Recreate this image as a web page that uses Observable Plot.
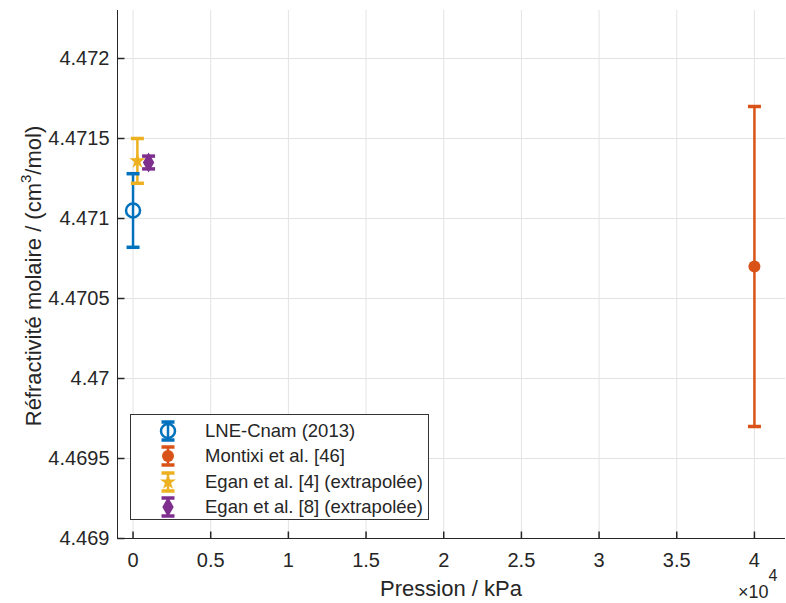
<!DOCTYPE html>
<html><head><meta charset="utf-8">
<script src="https://cdn.jsdelivr.net/npm/d3@7"></script>
<script src="https://cdn.jsdelivr.net/npm/@observablehq/plot@0.6"></script>
<style>
body{margin:0;background:#fff;}
#wrap{position:relative;width:786px;height:603px;font-family:"Liberation Sans",Arial,sans-serif;color:#262626;}
#legend{position:absolute;left:130px;top:414px;width:299px;height:106px;border:1px solid #333;background:#fff;box-sizing:border-box;}
.row{position:absolute;left:0;height:24px;display:flex;align-items:center;font-size:18.5px;white-space:nowrap;}
.row svg{margin-left:28px;margin-right:28px;}
</style></head>
<body><div id="wrap"><div id="legend"></div></div>
<script>
const series = ["LNE-Cnam (2013)", "Montixi et al. [46]", "Egan et al. [4] (extrapolée)", "Egan et al. [8] (extrapolée)"];
const pressure = [0, 40000, 280, 1000];
const refractivity = [4.47105, 4.47070, 4.47136, 4.47135];
const uncertainty = [0.00023, 0.00100, 0.00014, 0.00004];
const xTicks = [0, 5000, 10000, 15000, 20000, 25000, 30000, 35000, 40000];
const yTicks = [4.469, 4.4695, 4.47, 4.4705, 4.471, 4.4715, 4.472];

const colors = ["#0072BD", "#D95319", "#EDB120", "#7E2F8E"];
const table = series.map((s, i) => ({s, i, x: pressure[i], y: refractivity[i], lo: refractivity[i] - uncertainty[i], hi: refractivity[i] + uncertainty[i]}));

const cap = {draw(ctx){ctx.moveTo(-6.5,0);ctx.lineTo(6.5,0);}};
const tickL = {draw(ctx){ctx.moveTo(0,0);ctx.lineTo(7,0);}};
const tickB = {draw(ctx){ctx.moveTo(0,0);ctx.lineTo(0,-7);}};
const markerStyle = [
  {symbol: "circle", r: 7, fill: "white", fillOpacity: 0, stroke: colors[0], strokeWidth: 2.5},
  {symbol: "circle", r: 6, fill: colors[1], stroke: "none"},
  {symbol: "star", r: 5, fill: colors[2], stroke: "none"},
  {symbol: "diamond", r: 6, fill: colors[3], stroke: "none"}
];
const ink = "#262626";
const font = "Liberation Sans, Arial, sans-serif";
const plot = Plot.plot({
  width: 786, height: 603,
  marginLeft: 117, marginRight: 1, marginTop: 10, marginBottom: 65,
  x: {domain: [-1000, 42000]},
  y: {domain: [4.469, 4.4723]},
  style: {fontFamily: font, fontSize: "20px", color: ink, background: "transparent"},
  marks: [
    Plot.gridX(xTicks, {stroke: "#e3e3e3", strokeOpacity: 1}),
    Plot.gridY(yTicks, {stroke: "#e3e3e3", strokeOpacity: 1}),
    Plot.axisX(xTicks, {tickSize: 0, tickPadding: 14, tickFormat: d => String(d / 10000), label: null, fontSize: 20}),
    Plot.axisY(yTicks, {tickSize: 0, tickPadding: 8, tickFormat: d => String(+d.toFixed(4)), label: null, fontSize: 20}),
    Plot.ruleX([-1000], {stroke: ink}),
    Plot.ruleY([4.469], {stroke: ink}),
    Plot.dot(yTicks, {y: d => d, frameAnchor: "left", symbol: tickL, stroke: ink, r: 1}),
    Plot.dot(xTicks, {x: d => d, frameAnchor: "bottom", symbol: tickB, stroke: ink, r: 1}),
    Plot.ruleX(table, {x: "x", y1: "lo", y2: "hi", stroke: d => colors[d.i], strokeWidth: 2.5}),
    Plot.dot(table, {x: "x", y: "lo", symbol: cap, stroke: d => colors[d.i], strokeWidth: 3.5, r: 1}),
    Plot.dot(table, {x: "x", y: "hi", symbol: cap, stroke: d => colors[d.i], strokeWidth: 3.5, r: 1}),
    ...table.map((d, i) => Plot.dot([d], {x: "x", y: "y", ...markerStyle[i]}))
  ]
});
plot.style.position = "absolute";
plot.style.left = "0"; plot.style.top = "0";
const wrap = document.getElementById("wrap");
wrap.insertBefore(plot, wrap.firstChild);
const svg = d3.select(plot);
svg.selectAll('g[aria-label="x-axis tick label"], g[aria-label="y-axis tick label"]').attr("font-size", 20);
// y label with true superscript
const t = svg.append("text").attr("transform", "translate(41,276) rotate(-90)").attr("text-anchor", "middle")
  .attr("font-size", 22).attr("fill", ink).attr("font-family", font);
t.append("tspan").text("Réfractivité molaire / (cm");
t.append("tspan").attr("font-size", 15).attr("dy", -10).text("3");
t.append("tspan").attr("dy", 10).text("/mol)");
// x label
svg.append("text").attr("x", 451).attr("y", 596).attr("text-anchor", "middle").attr("font-size", 22)
  .attr("fill", ink).attr("font-family", font).text("Pression / kPa");
// exponent
const e = svg.append("text").attr("x", 738).attr("y", 598).attr("text-anchor", "start").attr("font-size", 18).attr("fill", ink).attr("font-family", font);
e.append("tspan").text("×10");
e.append("tspan").attr("font-size", 16).attr("dy", -17).text("4");
// legend
const legend = d3.select("#legend");
const syms = {circle: d3.symbolCircle, star: d3.symbolStar, diamond: d3.symbolDiamond};
series.forEach((s, i) => {
  const row = legend.append("div").attr("class", "row").style("top", (4 + i * 25.3) + "px");
  const g = row.append("svg").attr("width", 18).attr("height", 24).append("g").attr("transform", "translate(9,12)");
  g.append("line").attr("y1", -9).attr("y2", 9).attr("stroke", colors[i]).attr("stroke-width", 2.5);
  [-9, 9].forEach(y => g.append("line").attr("x1", -6.5).attr("x2", 6.5).attr("y1", y).attr("y2", y).attr("stroke", colors[i]).attr("stroke-width", 3.5));
  const m = markerStyle[i];
  g.append("path").attr("d", d3.symbol(syms[m.symbol], Math.PI * m.r * m.r)())
    .attr("fill", m.fillOpacity === 0 ? "none" : m.fill).attr("stroke", m.stroke).attr("stroke-width", m.strokeWidth || 0);
  row.append("span").text(s);
});
</script></body></html>
